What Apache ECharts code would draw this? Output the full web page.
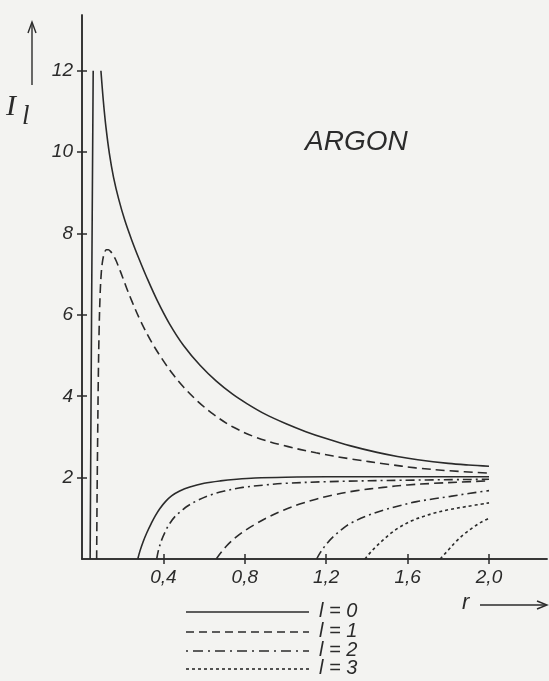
<!DOCTYPE html>
<html>
<head>
<meta charset="utf-8">
<script src="https://cdn.jsdelivr.net/npm/echarts@6/dist/echarts.min.js"></script>
<style>
html,body{margin:0;padding:0;background:#f3f3f1;}
#chart{width:549px;height:681px;}
</style>
</head>
<body>
<div id="chart"></div>
<script>
// ---- data (r, I_l) ----
var xTicks = [0.4, 0.8, 1.2, 1.6, 2.0];
var yTicks = [2, 4, 6, 8, 10, 12];
var legendLabels = ['l = 0', 'l = 1', 'l = 2', 'l = 3'];

// l = 0 (solid)
var l0Vertical = [[0.040, 0], [0.047, 6], [0.055, 12]];
var l0Upper = [[0.093, 12.0], [0.105, 11.25], [0.118, 10.6], [0.135, 9.95], [0.155, 9.38], [0.18, 8.85], [0.21, 8.33], [0.245, 7.83], [0.28, 7.38], [0.32, 6.9], [0.37, 6.35], [0.43, 5.78], [0.5, 5.24], [0.58, 4.76], [0.66, 4.37], [0.74, 4.05], [0.81, 3.82], [0.9, 3.56], [1.0, 3.33], [1.1, 3.13], [1.2, 2.96], [1.32, 2.78], [1.45, 2.62], [1.55, 2.52], [1.65, 2.44], [1.8, 2.35], [1.9, 2.31], [2.0, 2.28]];
var l0Lower = [[0.274, 0], [0.285, 0.2], [0.3, 0.42], [0.318, 0.64], [0.34, 0.87], [0.36, 1.06], [0.383, 1.24], [0.41, 1.41], [0.44, 1.55], [0.48, 1.67], [0.53, 1.77], [0.6, 1.86], [0.68, 1.92], [0.76, 1.96], [0.85, 1.99], [1.0, 2.01], [1.2, 2.02], [1.5, 2.02], [2.0, 2.02]];

// l = 1 (dashed)
var l1Upper = [[0.072, 0], [0.074, 1.5], [0.077, 3.0], [0.08, 4.4], [0.084, 5.6], [0.089, 6.5], [0.095, 7.05], [0.102, 7.35], [0.11, 7.52], [0.12, 7.6], [0.13, 7.6], [0.14, 7.56], [0.152, 7.48], [0.165, 7.36], [0.18, 7.18], [0.2, 6.92], [0.22, 6.65], [0.244, 6.35], [0.285, 5.88], [0.342, 5.33], [0.4, 4.87], [0.45, 4.52], [0.5, 4.22], [0.57, 3.87], [0.65, 3.54], [0.74, 3.25], [0.85, 3.0], [0.99, 2.79], [1.15, 2.61], [1.32, 2.46], [1.5, 2.33], [1.64, 2.24], [1.8, 2.17], [2.0, 2.11]];
var l1Lower = [[0.66, 0], [0.68, 0.14], [0.71, 0.32], [0.76, 0.55], [0.81, 0.73], [0.86, 0.88], [0.92, 1.04], [0.99, 1.2], [1.07, 1.35], [1.15, 1.47], [1.23, 1.57], [1.35, 1.68], [1.48, 1.76], [1.6, 1.82], [1.73, 1.86], [1.86, 1.89], [2.0, 1.92]];

// l = 2 (dash-dot)
var l2First = [[0.367, 0], [0.375, 0.2], [0.39, 0.45], [0.41, 0.68], [0.432, 0.88], [0.46, 1.06], [0.49, 1.19], [0.515, 1.29], [0.56, 1.42], [0.63, 1.57], [0.7, 1.67], [0.79, 1.76], [0.9, 1.82], [1.0, 1.86], [1.2, 1.9], [1.5, 1.93], [2.0, 1.96]];
var l2Second = [[1.153, 0], [1.17, 0.15], [1.2, 0.36], [1.235, 0.55], [1.28, 0.74], [1.317, 0.87], [1.4, 1.06], [1.48, 1.2], [1.56, 1.31], [1.645, 1.41], [1.73, 1.48], [1.81, 1.54], [1.9, 1.61], [2.0, 1.68]];

// l = 3 (short dash)
var l3First = [[1.39, 0], [1.41, 0.12], [1.44, 0.28], [1.48, 0.47], [1.52, 0.64], [1.56, 0.78], [1.62, 0.94], [1.68, 1.05], [1.725, 1.12], [1.8, 1.21], [1.89, 1.29], [2.0, 1.38]];
var l3Second = [[1.76, 0], [1.78, 0.11], [1.8, 0.22], [1.84, 0.44], [1.88, 0.62], [1.92, 0.77], [1.96, 0.9], [2.0, 1.0]];

// ---- styling ----
var INK = '#2b2b2b';
var DASH = {
  l0: 'solid',
  l1: [9, 5],
  l2: [9, 4, 2, 4],
  l3: [3, 3]
};
function mk(name, data, dash) {
  return {
    type: 'line', name: name, data: data, showSymbol: false, smooth: 0.35,
    xAxisIndex: 0, yAxisIndex: 0, silent: true, animation: false,
    lineStyle: { color: INK, width: 1.6, type: dash }
  };
}
var series = [
  mk('l0v', l0Vertical, DASH.l0),
  mk('l0u', l0Upper, DASH.l0),
  mk('l0l', l0Lower, DASH.l0),
  mk('l1u', l1Upper, DASH.l1),
  mk('l1l', l1Lower, DASH.l1),
  mk('l2a', l2First, DASH.l2),
  mk('l2b', l2Second, DASH.l2),
  mk('l3a', l3First, DASH.l3),
  mk('l3b', l3Second, DASH.l3)
];

var XMAX = 2.285, YMAX = 13.37;
var numFont = { fontFamily: 'Liberation Sans', fontStyle: 'italic', fontSize: 19, color: INK };
function fmtX(v) { return Number(v).toFixed(1).replace('.', ','); }
function fmtY(v) { return String(Math.round(v)); }
var tickStyle = { color: INK, width: 1.5 };
var baseX = { type: 'value', min: 0, max: XMAX, interval: 0.4, position: 'bottom', splitLine: { show: false },
  axisLine: { lineStyle: { color: INK, width: 1.5 } } };
var baseY = { type: 'value', min: 0, max: YMAX, interval: 2, position: 'left', splitLine: { show: false },
  axisLine: { lineStyle: { color: INK, width: 1.5 } } };

var legendY = [612, 632, 651, 669];
var legendDash = [null, [8, 5], [2, 5, 10, 5], [3, 3]];
var graphics = [];
for (var i = 0; i < 4; i++) {
  graphics.push({ type: 'line', shape: { x1: 186, y1: legendY[i], x2: 309, y2: legendY[i] },
    style: { stroke: INK, lineWidth: 1.6, lineDash: legendDash[i] }, silent: true });
  graphics.push({ type: 'text', left: 319, top: legendY[i] - 11,
    style: { text: legendLabels[i], font: 'italic 20px "Liberation Sans"', fill: INK }, silent: true });
}
// y-axis name I_l with arrow
graphics.push({ type: 'line', shape: { x1: 32, y1: 85, x2: 32, y2: 24 }, style: { stroke: INK, lineWidth: 1.4 } });
graphics.push({ type: 'polyline', shape: { points: [[28, 33], [32, 22], [36, 33]] }, style: { stroke: INK, lineWidth: 1.4, fill: null } });
graphics.push({ type: 'text', left: 6, top: 92, style: { text: 'I', font: 'italic 30px "Liberation Serif"', fill: INK } });
graphics.push({ type: 'text', left: 22, top: 103, style: { text: 'l', font: 'italic 27px "Liberation Serif"', fill: INK } });
// x-axis name r with arrow
graphics.push({ type: 'text', left: 462, top: 592, style: { text: 'r', font: 'italic 22px "Liberation Sans"', fill: INK } });
graphics.push({ type: 'line', shape: { x1: 480, y1: 605, x2: 546, y2: 605 }, style: { stroke: INK, lineWidth: 1.4 } });
graphics.push({ type: 'polyline', shape: { points: [[537, 601], [547, 605], [537, 609]] }, style: { stroke: INK, lineWidth: 1.4, fill: null } });
// title
graphics.push({ type: 'text', left: 305, top: 128, style: { text: 'ARGON', font: 'italic 28px "Liberation Sans"', fill: INK } });

var chart = echarts.init(document.getElementById('chart'), null, { renderer: 'canvas' });
chart.setOption({
  backgroundColor: '#f3f3f1',
  animation: false,
  grid: { left: 82, right: 2, top: 15, bottom: 122, containLabel: false },
  xAxis: [
    Object.assign({}, baseX, { axisTick: { show: true, inside: false, length: 5, lineStyle: tickStyle, customValues: xTicks },
      axisLabel: Object.assign({ margin: 9, formatter: fmtX, customValues: xTicks }, numFont) }),
    Object.assign({}, baseX, { axisTick: { show: true, inside: true, length: 5, lineStyle: tickStyle, customValues: xTicks },
      axisLabel: { show: false } })
  ],
  yAxis: [
    Object.assign({}, baseY, { axisTick: { show: true, inside: false, length: 5, lineStyle: tickStyle, customValues: yTicks },
      axisLabel: Object.assign({ margin: 9, formatter: fmtY, customValues: yTicks }, numFont) }),
    Object.assign({}, baseY, { axisTick: { show: true, inside: true, length: 5, lineStyle: tickStyle, customValues: yTicks },
      axisLabel: { show: false } })
  ],
  series: series,
  graphic: graphics
});
</script>
</body>
</html>
